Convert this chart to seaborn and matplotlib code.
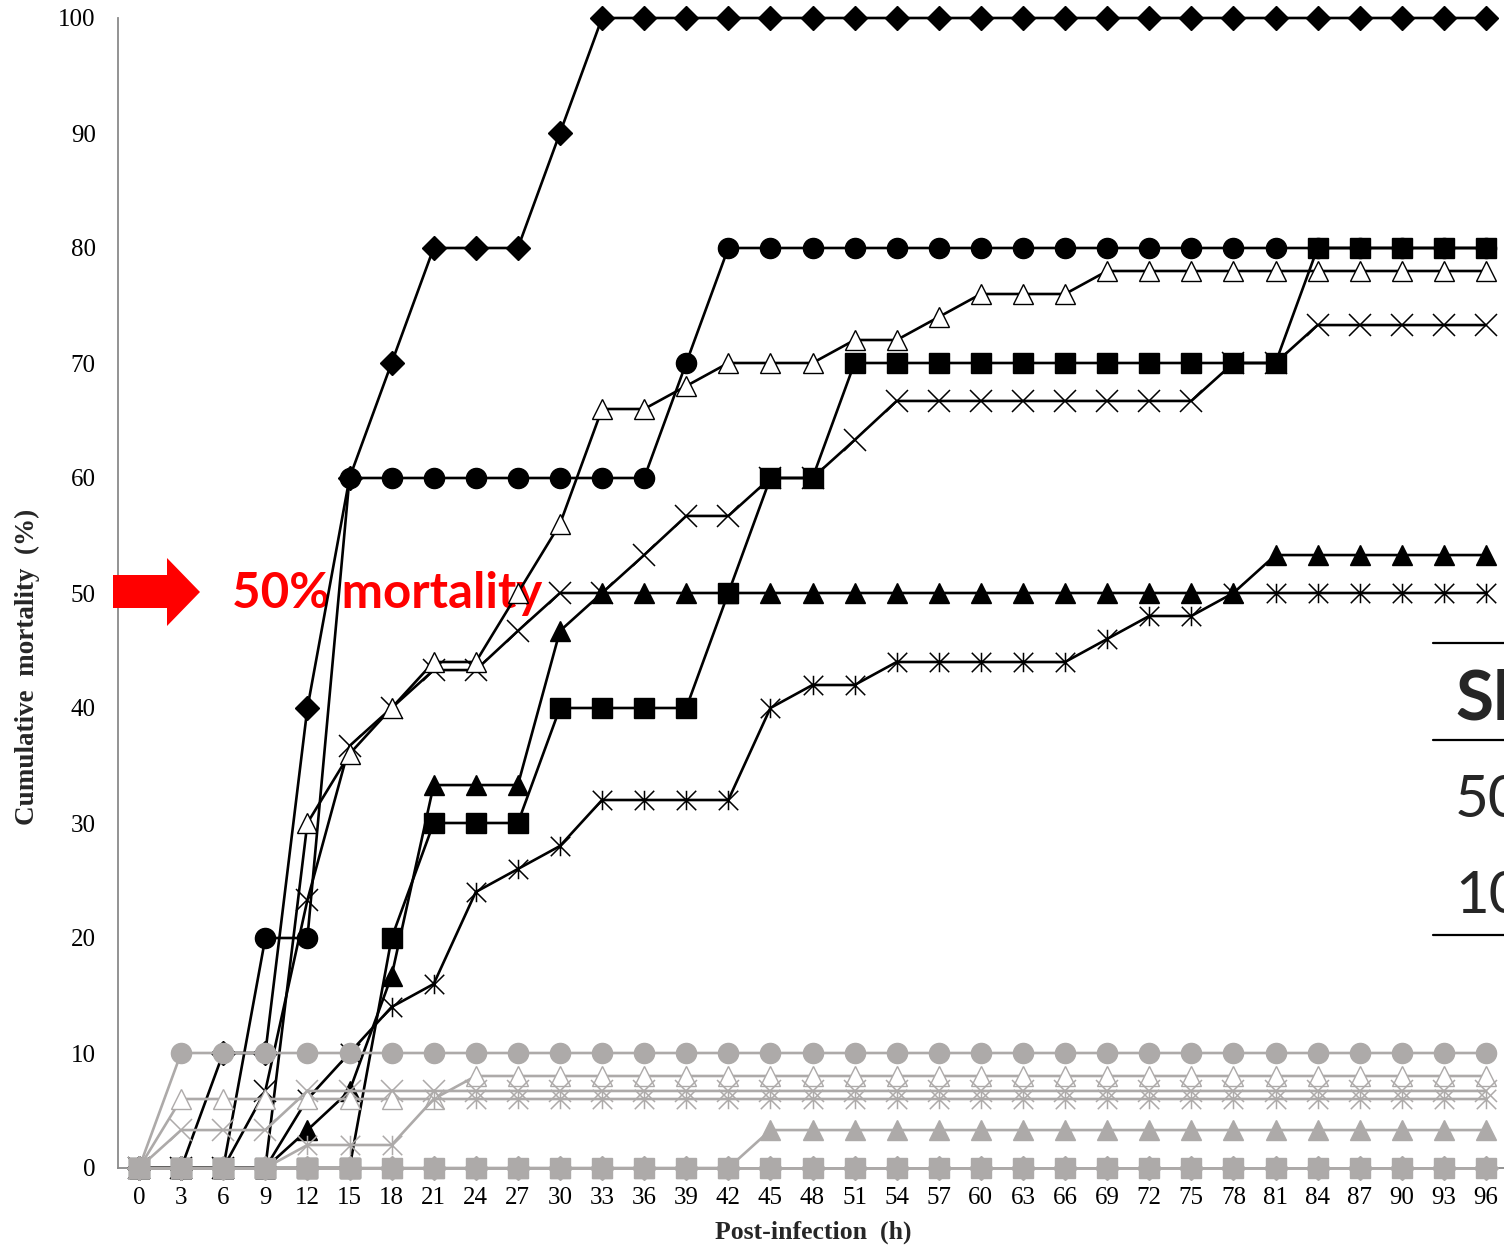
import matplotlib
matplotlib.use("Agg")
import matplotlib.pyplot as plt
import seaborn as sns
from matplotlib.path import Path
from matplotlib.patches import Polygon
from matplotlib.lines import Line2D

# Sampling times (h post-infection)
hours = list(range(0, 97, 3))

# Cumulative mortality (%) - infected groups (black)
black_diamond = [0, 0, 10, 10, 40, 60, 70, 80, 80, 80, 90] + [100] * 22
black_circle = [0, 0, 0, 20, 20] + [60] * 8 + [70] + [80] * 19
black_open_triangle = [0, 0, 0, 0, 30, 36, 40, 44, 44, 50, 56, 66, 66, 68, 70, 70,
                       70, 72, 72, 74, 76, 76, 76] + [78] * 10
black_x = [0, 0, 0, 6.7, 23.3, 36.7, 40, 43.3, 43.3, 46.7, 50, 50, 53.3, 56.7, 56.7,
           60, 60, 63.3] + [66.7] * 8 + [70, 70] + [73.3] * 5
black_triangle = [0, 0, 0, 0, 3.3, 6.7, 16.7, 33.3, 33.3, 33.3, 46.7] + [50] * 16 + [53.3] * 6
black_square = [0] * 6 + [20, 30, 30, 30, 40, 40, 40, 40, 50, 60, 60] + [70] * 11 + [80] * 5
black_asterisk = [0, 0, 0, 0, 6, 10, 14, 16, 24, 26, 28, 32, 32, 32, 32, 40, 42, 42,
                  44, 44, 44, 44, 44, 46, 48, 48] + [50] * 7

# Cumulative mortality (%) - control groups (grey)
grey_circle = [0] + [10] * 32
grey_open_triangle = [0] + [6] * 7 + [8] * 25
grey_x = [0, 3.3, 3.3, 3.3] + [6.7] * 29
grey_asterisk = [0, 0, 0, 0, 2, 2, 2] + [6] * 26
grey_triangle = [0] * 15 + [3.3] * 18
grey_square = [0] * 33
grey_diamond = [0] * 33

# Six-armed asterisk marker (X with a vertical bar)
asterisk = Path([(0, -0.5), (0, 0.5), (-0.5, -0.5), (0.5, 0.5), (-0.5, 0.5), (0.5, -0.5)],
                [Path.MOVETO, Path.LINETO, Path.MOVETO, Path.LINETO, Path.MOVETO, Path.LINETO])

sns.set_theme(style="white")
plt.rcParams['font.family'] = ['Liberation Serif', 'DejaVu Serif']

W, H = 1504, 1247
fig = plt.figure(figsize=(W / 100, H / 100), dpi=100)
ax = fig.add_axes([118 / W, 79 / H, 1389 / W, 1150 / H])

BLACK = "black"
GREY = "#ADAAA9"

def draw(values, color, marker, size, face=None, edge=None, mew=1.0, lw=1.9, z=3):
    sns.lineplot(x=hours, y=values, ax=ax, color=color, marker=marker,
                 markersize=size, markerfacecolor=face if face is not None else color,
                 markeredgecolor=edge if edge is not None else color,
                 markeredgewidth=mew, linewidth=lw, clip_on=False, zorder=z)

# infected groups
draw(black_asterisk, BLACK, asterisk, 14, mew=1.1)
draw(black_square, BLACK, "s", 14)
draw(black_triangle, BLACK, "^", 15)
draw(black_x, BLACK, "x", 16, mew=1.1)
draw(black_open_triangle, BLACK, "^", 15, face="white", mew=1.0)
draw(black_circle, BLACK, "o", 14.5)
draw(black_diamond, BLACK, "D", 12.2)

# control groups
draw(grey_open_triangle, GREY, "^", 15, face="white", mew=1.0, z=4)
draw(grey_x, GREY, "x", 16, mew=1.1, z=4)
draw(grey_asterisk, GREY, asterisk, 14, mew=1.1, z=4)
draw(grey_triangle, GREY, "^", 15, z=4)
draw(grey_circle, GREY, "o", 14.5, z=4)
draw(grey_diamond, GREY, "D", 12.2, z=4)
draw(grey_square, GREY, "s", 14, z=4)

ax.set_xlim(-1.5, 97.5)
ax.set_ylim(0, 100)
ax.set_xticks(hours)
ax.set_xticklabels([str(h) for h in hours])
ax.set_yticks(range(0, 101, 10))
ax.tick_params(axis="x", length=0, pad=14, labelsize=18, colors="black")
ax.tick_params(axis="y", length=0, pad=16, labelsize=18, colors="black")
for side in ("top", "right"):
    ax.spines[side].set_visible(False)
for side in ("left", "bottom"):
    ax.spines[side].set_color("#8A8A8A")
    ax.spines[side].set_linewidth(1.3)
ax.set_xlabel("")
ax.set_ylabel("")
ax.grid(False)

fig.text(813 / W, 1 - 1232 / H, "Post-infection  (h)", ha="center", va="center",
         fontsize=18.5, fontweight="bold")
fig.text(27 / W, 1 - 667 / H, "Cumulative  mortality  (%)", ha="center", va="center",
         rotation=90, fontsize=19.5, fontweight="bold")

# 50 % mortality marker
def fp(x, y):
    return (x / W, 1 - y / H)

arrow = Polygon([fp(113, 575), fp(167, 575), fp(167, 558), fp(200, 592),
                 fp(167, 626), fp(167, 608), fp(113, 608)],
                closed=True, facecolor="#FF0000", edgecolor="none",
                transform=fig.transFigure, clip_on=False, zorder=5)
ax.add_patch(arrow)
ax.text(6.6, 48.7, "50% mortality", color="#FF0000", fontsize=35.5, fontweight="bold",
        family=["Lato", "DejaVu Sans"], ha="left", va="baseline", zorder=1)

# summary table at the right edge
for y in (643, 740, 935):
    fig.add_artist(Line2D([1433 / W, 1.0], [1 - y / H, 1 - y / H],
                          transform=fig.transFigure, color="black", lw=1.6))
fig.text(1455 / W, 1 - 720 / H, "Sh", fontsize=50, fontweight="bold",
         family=["Lato", "DejaVu Sans"], ha="left", va="baseline")
fig.text(1455 / W, 1 - 817 / H, "50", fontsize=42,
         family=["Lato", "DejaVu Sans"], ha="left", va="baseline")
fig.text(1455 / W, 1 - 913 / H, "10", fontsize=42,
         family=["Lato", "DejaVu Sans"], ha="left", va="baseline")

fig.savefig("out.png", dpi=100, facecolor="white")
